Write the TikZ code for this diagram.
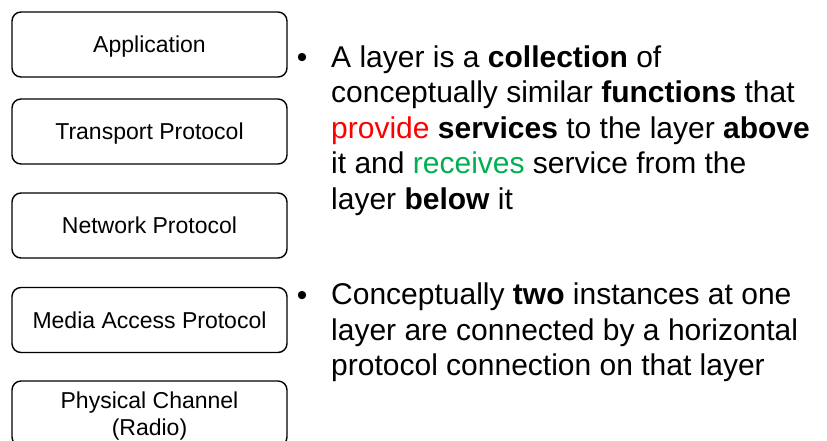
\documentclass[tikz,border=0pt]{standalone}
\usepackage{xcolor}
\usepackage{fontspec}
\setmainfont{Liberation Sans}
\definecolor{providered}{RGB}{255,0,0}
\definecolor{receivegreen}{RGB}{0,176,80}

\begin{document}
\begin{tikzpicture}[x=1pt,y=-1pt,
    layerbox/.style={draw, line width=1.4pt, rounded corners=9pt, minimum width=275pt, minimum height=65pt, align=center, inner sep=0pt, text depth=0pt, font=\fontsize{23}{27}\selectfont},
    bodytext/.style={anchor=north west, align=left, inner sep=0pt, font=\fontsize{30}{35.4}\selectfont},
    bulletdot/.style={anchor=base, inner sep=0pt, font=\fontsize{30}{36}\selectfont}]

        % Fix the page size
        \useasboundingbox (0,0) rectangle (827,440);

        % Draw the layer boxes
        \node[layerbox] (app) at (149.5,44.5) {Application};
        \node[layerbox] (transport) at (149.5,131.5) {Transport Protocol};
        \node[layerbox] (network) at (149.5,225.5) {Network Protocol};
        \node[layerbox] (mac) at (149.5,320) {Media Access Protocol};
        \node[layerbox] (phys) at (149.5,413.5) {Physical Channel\\(Radio)};

        % Draw the first bullet
        \node[bulletdot] (dotone) at (302,67.5) {•};
        \node[bodytext] (layerdef) at (331,45.5) {A layer is a \textbf{collection} of\\
            conceptually similar \textbf{functions} that\\
            \textcolor{providered}{provide} \textbf{services} to the layer \textbf{above}\\
            it and \textcolor{receivegreen}{receives} service from the\\
            layer \textbf{below} it};

        % Draw the second bullet
        \node[bulletdot] (dottwo) at (302,305) {•};
        \node[bodytext] (peerdef) at (331,283) {Conceptually \textbf{two} instances at one\\
            layer are connected by a horizontal\\
            protocol connection on that layer};
\end{tikzpicture}
\end{document}
